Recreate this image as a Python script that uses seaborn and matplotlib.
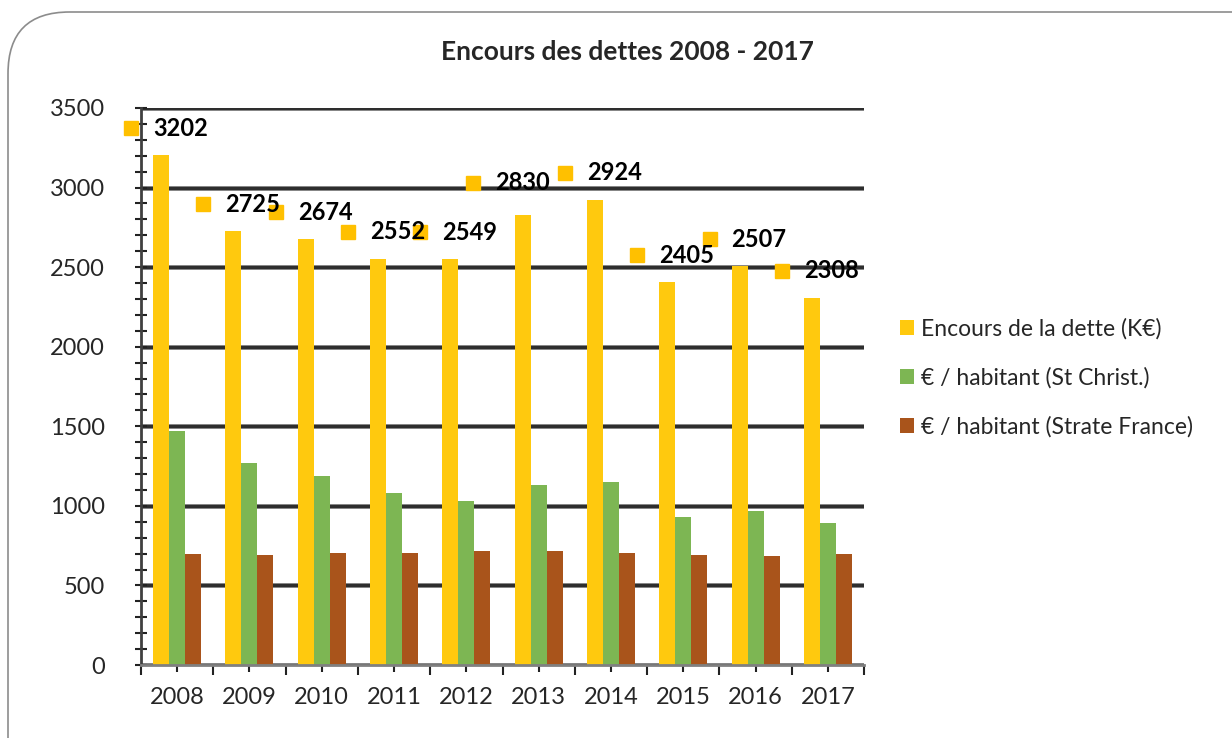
import pandas as pd
import matplotlib
matplotlib.use("Agg")
import matplotlib.pyplot as plt
import matplotlib.patheffects as pe
from matplotlib.patches import FancyBboxPatch
from matplotlib.ticker import MultipleLocator
from matplotlib.transforms import offset_copy
import seaborn as sns

# ---- Données ----
YEARS = ["2008", "2009", "2010", "2011", "2012", "2013", "2014", "2015", "2016", "2017"]
ENCOURS = [3202, 2725, 2674, 2552, 2549, 2830, 2924, 2405, 2507, 2308]
HAB_ST_CHRIST = [1468, 1268, 1186, 1078, 1032, 1130, 1150, 933, 968, 890]
HAB_STRATE = [700, 690, 702, 702, 714, 718, 706, 692, 682, 698]
SERIES = ["Encours de la dette (K€)", "€ / habitant (St Christ.)", "€ / habitant (Strate France)"]
TITLE = "Encours des dettes 2008 - 2017"

BAR_COLORS = ["#FFC90E", "#7DB653", "#A9541B"]
LABEL_SQUARE = "#FFC000"
# décalage manuel (pixels) des étiquettes, comme dans l'original
LABEL_NUDGE = {"2013": (-20, 5)}

df = pd.DataFrame({
    "Année": YEARS * 3,
    "Valeur": ENCOURS + HAB_ST_CHRIST + HAB_STRATE,
    "Série": [SERIES[0]] * 10 + [SERIES[1]] * 10 + [SERIES[2]] * 10,
})

sns.set_theme(style="white")
plt.rcParams["font.family"] = ["Lato", "DejaVu Sans"]

W, H = 1232, 738
fig = plt.figure(figsize=(W / 100, H / 100), dpi=100)
ax = fig.add_axes([141 / W, 1 - 665 / H, (864 - 141) / W, (665 - 108) / H])

sns.barplot(data=df, x="Année", y="Valeur", hue="Série", palette=BAR_COLORS,
            width=0.665, gap=0, dodge=True, saturation=1, linewidth=0,
            ax=ax, legend=True)

ax.set_xlim(-0.5, len(YEARS) - 0.5)
ax.set_ylim(0, 3500)
ax.yaxis.set_major_locator(MultipleLocator(500))
ax.yaxis.set_minor_locator(MultipleLocator(100))
ax.set_xticks(range(len(YEARS)))
ax.set_xticks([i + 0.5 for i in range(-1, len(YEARS))], minor=True)
ax.set_xlabel("")
ax.set_ylabel("")

ax.set_axisbelow(True)
ax.yaxis.grid(True, which="major", color="#2e2e2e", linewidth=2.4)
for gl in ax.get_ygridlines():
    gl.set_path_effects([pe.withStroke(linewidth=3.6, foreground="#9a9a9a")])

for side in ["top", "right"]:
    ax.spines[side].set_visible(False)
ax.spines["left"].set_color("#404040")
ax.spines["left"].set_linewidth(2)
ax.spines["bottom"].set_color("#808080")
ax.spines["bottom"].set_linewidth(2)
ax.spines["bottom"].set_zorder(4)

ax.tick_params(axis="y", which="both", direction="inout", length=8, width=1.5,
               color="#222222", left=True, labelsize=17, pad=22)
ax.tick_params(axis="x", which="major", direction="inout", length=10, width=1.5,
               color="#222222", bottom=True, labelsize=17, pad=11)
ax.tick_params(axis="x", which="minor", direction="out", length=7, width=1.5,
               color="#222222", bottom=True)

# étiquettes de données (carré + valeur)
for i, (year, val) in enumerate(zip(YEARS, ENCOURS)):
    dx, dy = LABEL_NUDGE.get(year, (0, 0))
    sq = offset_copy(ax.transData, fig=fig, x=-46 + dx, y=27 + dy, units="dots")
    ax.plot([i], [val], marker="s", markersize=10.5, color=LABEL_SQUARE,
            linestyle="none", transform=sq, clip_on=False, zorder=5)
    tx = offset_copy(ax.transData, fig=fig, x=-24 + dx, y=27 + dy, units="dots")
    ax.text(i, val, f"{val}", transform=tx, ha="left", va="center",
            fontsize=17, fontweight="bold", color="black", zorder=6)

fig.text(627 / W, 1 - 52 / H, TITLE, ha="center", va="center",
         fontsize=19, fontweight="bold")

handles, labels = ax.get_legend_handles_labels()
ax.legend_.remove()
leg = fig.legend(handles, labels, loc="upper left",
                 bbox_to_anchor=(900 / W, 1 - 318 / H), frameon=False,
                 fontsize=16.5, handlelength=0.62, handleheight=0.62,
                 handletextpad=0.3, labelspacing=1.2, borderpad=0,
                 borderaxespad=0)

# cadre arrondi du graphique
frame = FancyBboxPatch((8 / W, -0.2), 1.2, (1 - 12 / H) + 0.2,
                       boxstyle="round,pad=0,rounding_size=0.05",
                       transform=fig.transFigure, facecolor="none",
                       edgecolor="#8c8c8c", linewidth=1.2, mutation_aspect=W / H)
fig.patches.append(frame)

fig.savefig("out.png", dpi=100)
